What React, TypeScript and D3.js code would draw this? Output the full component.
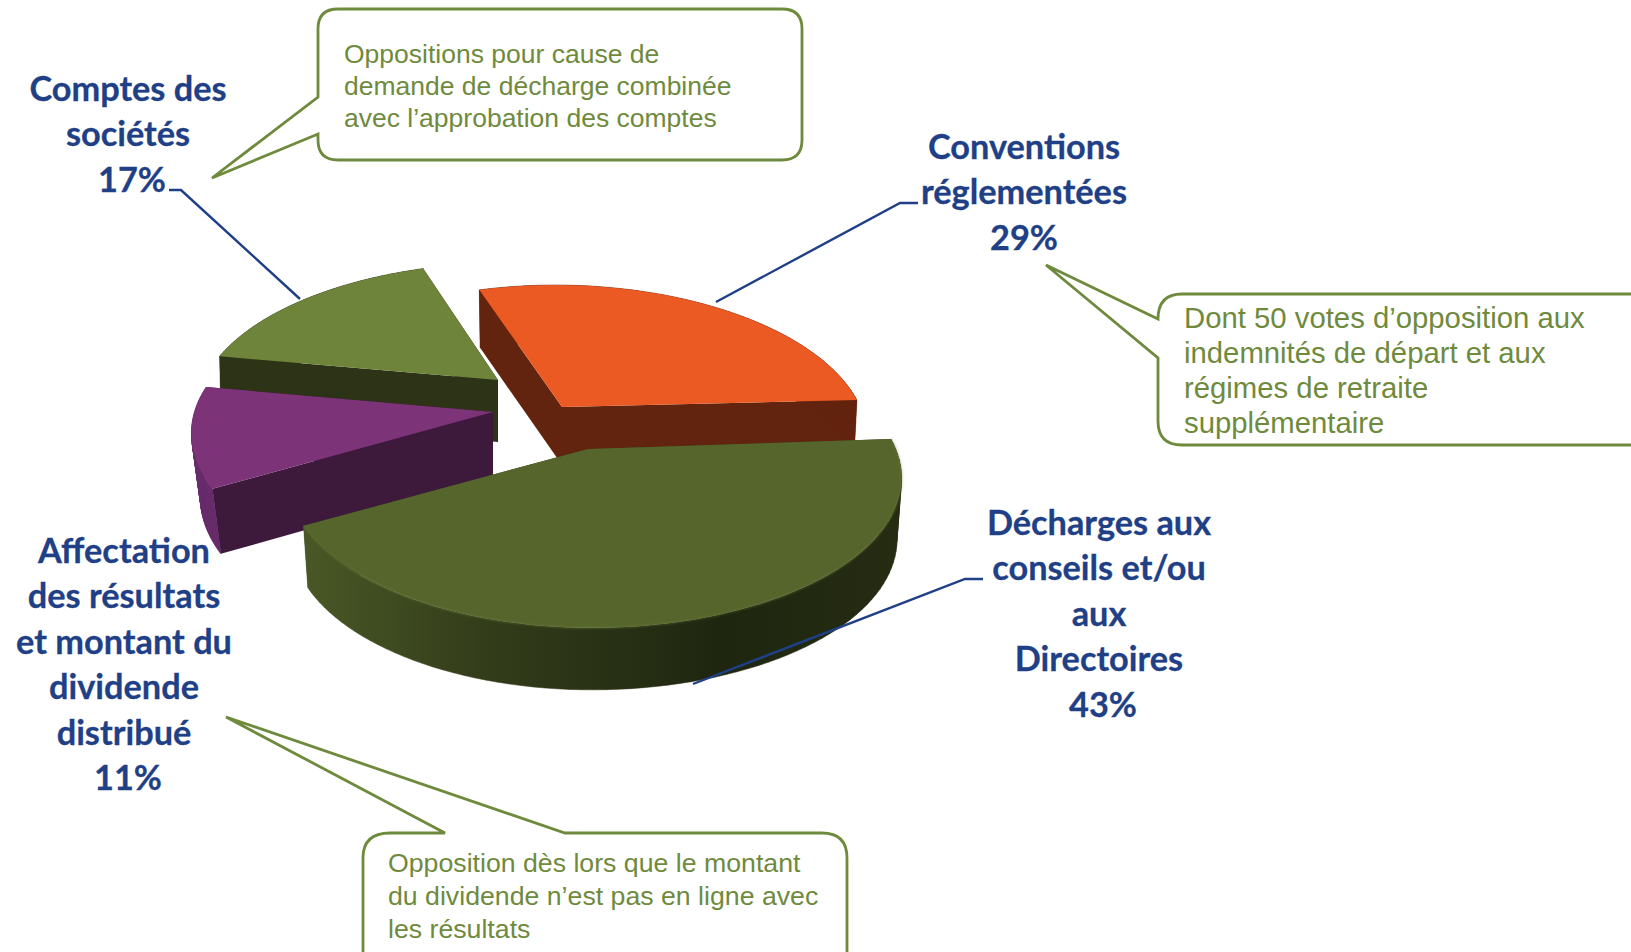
import React from "react";
import * as d3 from "d3";

// ---- data ----
const categories = ["Conventions réglementées", "Décharges aux conseils et/ou aux Directoires", "Affectation des résultats et montant du dividende distribué", "Comptes des sociétés"];
const shares = [29, 43, 11, 17];
const shareLabels = ["29%", "43%", "11%", "17%"];
const labelLines = [
  ["Conventions", "réglementées"],
  ["Décharges aux", "conseils et/ou", "aux", "Directoires"],
  ["Affectation", "des résultats", "et montant du", "dividende", "distribué"],
  ["Comptes des", "sociétés"],
];
const noteOpposition = ["Oppositions pour cause de", "demande de décharge combinée", "avec l’approbation des comptes"];
const noteConventions = ["Dont 50 votes d’opposition aux", "indemnités de départ et aux", "régimes de retraite", "supplémentaire"];
const noteDividende = ["Opposition dès lors que le montant", "du dividende n’est pas en ligne avec", "les résultats"];

// ---- layout (pixels, not data) ----
const W = 1631, H = 952;
const NAVY = "#1f3f86", NOTE = "#6f8a3d", EDGE = "#6e8a3c";
const PERSP = 0.189;
const START = (-16 * Math.PI) / 180;

const sliceLayout = [
  { ax: 562, ay: 407, rx: 297, rxL: 297, ry: 145, shear: 14, tilt: -3, scale: 0.99, depth: 58, top: "#ec5a23", cut: "#62230f", side: "#62230f" },
  { ax: 588, ay: 449, rx: 305, rxL: 298, ry: 145, shear: 14, tilt: -6, scale: 0.985, depth: 62, top: "#55652c", cut: "#3a4620", side: "url(#greenSide)" },
  { ax: 493, ay: 412, rx: 300, rxL: 300, ry: 145, shear: 27, tilt: -6, scale: 0.97, depth: 65, top: "#7d3378", cut: "#3d193b", side: "#692c6c" },
  { ax: 498, ay: 380, rx: 296, rxL: 296, ry: 139, shear: 6, tilt: -6, scale: 0.995, depth: 62, top: "#6e843a", cut: "#2d3316", side: "#2d3316" },
];
const labelLayout = [
  { x: 1024, y: 159, pctDx: 0 },
  { x: 1099, y: 535, pctDx: 4 },
  { x: 124, y: 563, pctDx: 4 },
  { x: 128, y: 101, pctDx: 4 },
];

const pie = d3.pie<number>().sort(null).startAngle(START).endAngle(START + 2 * Math.PI);
const arcs = pie(shares);

type P = [number, number];
type Geo = (typeof sliceLayout)[number];
const project = (a: number, L: Geo): P => {
  const c = Math.cos(a), s = Math.sin(a);
  const k = 1 / (1 - PERSP * s);
  return [(c < 0 ? L.rxL : L.rx) * c * k + L.shear * s, L.ry * s * k + L.tilt * c];
};
const line = d3.line<P>();

function slicePaths(i: number) {
  const L = sliceLayout[i];
  const a0 = arcs[i].startAngle - Math.PI / 2;
  const a1 = arcs[i].endAngle - Math.PI / 2;
  const angle = d3.scaleLinear().domain([0, 80]).range([a0, a1]);
  const rim = d3.range(81).map((t) => project(angle(t), L));
  const up = (p: P): P => [L.ax + p[0], L.ay + p[1]];
  const down = (p: P): P => [L.ax + p[0] * L.scale, L.ay + p[1] + L.depth];
  const apexT = up([0, 0]), apexB = down([0, 0]);
  const topFace = [apexT, ...rim.map(up)];
  // the outer wall is a ribbon of small quads, so its silhouette follows the tangents
  const outer = rim.slice(1).map((p, k) => {
    const q = rim[k];
    const quad = [up(q), up(p), down(p), down(q)];
    const cross = (quad[1][0] - quad[0][0]) * (quad[2][1] - quad[0][1]) - (quad[1][1] - quad[0][1]) * (quad[2][0] - quad[0][0]);
    return line(cross < 0 ? [...quad].reverse() : quad) + "Z";
  }).join("");
  const cutStart = [apexT, up(rim[0]), down(rim[0]), apexB];
  const cutEnd = [apexT, up(rim[80]), down(rim[80]), apexB];
  return {
    top: line(topFace) + "Z",
    outer,
    cutStart: line(cutStart) + "Z",
    cutEnd: line(cutEnd) + "Z",
    rim: line(rim.map(up))!,
  };
}

function Slice({ i }: { i: number }) {
  const L = sliceLayout[i];
  const p = slicePaths(i);
  return (
    <g>
      <path d={p.cutEnd} fill={L.cut} />
      <path d={p.outer} fill={L.side} stroke={L.side} strokeWidth={0.5} />
      <path d={p.cutStart} fill={L.cut} />
      <path d={p.top} fill={L.top} />
      {i === 1 && <path d={p.rim} fill="none" stroke="#6b7a3c" strokeWidth={1.5} opacity={0.55} filter="url(#soft)" />}
    </g>
  );
}

function Label({ i }: { i: number }) {
  const L = labelLayout[i];
  const lines = labelLines[i];
  const step = 45.4;
  return (
    <text fontFamily="Lato, sans-serif" fontWeight={700} fontSize={34.3} fill={NAVY} stroke={NAVY} strokeWidth={0.3} textAnchor="middle" aria-label={categories[i]}>
      {lines.map((t, k) => (
        <tspan key={k} x={L.x} y={L.y + k * step}>{t}</tspan>
      ))}
      <tspan x={L.x + L.pctDx} y={L.y + lines.length * step}>{shareLabels[i]}</tspan>
    </text>
  );
}

function Note({ lines, x, y, step, size }: { lines: string[]; x: number; y: number; step: number; size: number }) {
  return (
    <text fontFamily="'Liberation Sans', Arial, sans-serif" fontSize={size} fill={NOTE}>
      {lines.map((t, k) => (
        <tspan key={k} x={x} y={y + k * step}>{t}</tspan>
      ))}
    </text>
  );
}

const leaders: P[][] = [
  [[918, 203], [900, 203], [716, 302]],
  [[983, 579], [965, 579], [693, 684]],
  [[169, 190], [181, 190], [300, 299]],
];

const calloutPaths = [
  "M338,9 H782 Q802,9 802,29 V140 Q802,160 782,160 H338 Q318,160 318,140 V134 L212,178 L318,97 V29 Q318,9 338,9 Z",
  "M1182,294 H1660 V445 H1182 Q1158,445 1158,421 V358 L1046,265 L1158,319 Q1158,294 1182,294 Z",
  "M390,833 H445 L226,717 L565,833 H822 Q847,833 847,858 V980 H363 V858 Q363,833 390,833 Z",
];

export default function App() {
  return (
    <svg width={W} height={H} viewBox={`0 0 ${W} ${H}`} style={{ position: "absolute", left: 0, top: 0, background: "#fff" }}>
      <defs>
        <linearGradient id="greenSide" gradientUnits="userSpaceOnUse" x1={300} x2={900} y1={0} y2={0}>
          <stop offset="0" stopColor="#4a5826" />
          <stop offset="0.3" stopColor="#333d1a" />
          <stop offset="0.7" stopColor="#1f2610" />
          <stop offset="1" stopColor="#252c12" />
        </linearGradient>
        <filter id="soft" x="-5%" y="-5%" width="110%" height="110%">
          <feGaussianBlur stdDeviation="1" />
        </filter>
      </defs>
      {/* draw back to front */}
      <Slice i={3} />
      <Slice i={0} />
      <Slice i={2} />
      <Slice i={1} />
      {leaders.map((l, k) => (
        <path key={k} d={line(l)!} fill="none" stroke={NAVY} strokeWidth={2.4} />
      ))}
      {calloutPaths.map((d, k) => (
        <path key={k} d={d} fill="#fff" stroke={EDGE} strokeWidth={2.8} />
      ))}
      {categories.map((_, i) => <Label key={i} i={i} />)}
      <Note lines={noteOpposition} x={344} y={63} step={32} size={26.5} />
      <Note lines={noteConventions} x={1184} y={328} step={35} size={29.3} />
      <Note lines={noteDividende} x={388} y={872} step={33} size={26.7} />
    </svg>
  );
}
